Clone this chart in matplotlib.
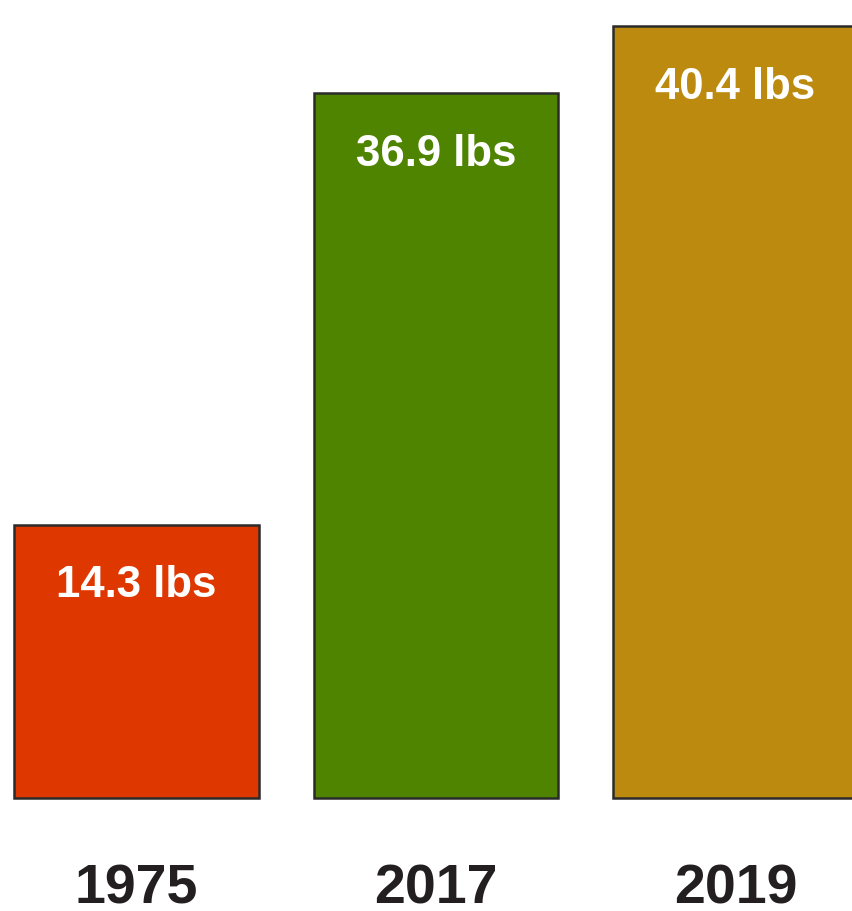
import matplotlib
matplotlib.use("Agg")
import matplotlib.pyplot as plt

years = ["1975", "2017", "2019"]
values = [14.3, 36.9, 40.4]
colors = ["#DE3700", "#4E8400", "#BC8A0E"]
labels = ["14.3 lbs", "36.9 lbs", "40.4 lbs"]

plt.rcParams['font.family'] = ['Liberation Sans', 'DejaVu Sans']

W, H = 853, 911
fig = plt.figure(figsize=(W / 100, H / 100), dpi=100)
ax = fig.add_axes([0, (H - 798) / H, 1, 798 / H])

x = list(range(len(years)))
bars = ax.bar(x, values, width=0.818, color=colors, edgecolor="#2b2b2b", linewidth=1.8)
for b in bars:
    b.set_clip_on(False)

for xi, v, lab in zip(x, values, labels):
    ax.annotate(lab, (xi, v), xytext=(0, -44), textcoords="offset points",
                ha="center", va="center", color="white", fontsize=31.5, fontweight="bold")

ax.set_xlim(-136.5 / 299.5, (W - 136.5) / 299.5)
ax.set_ylim(0, 798 / 19.1)
ax.set_xticks(x)
ax.set_xticklabels(years, fontsize=40, fontweight="bold", color="#231f20")
ax.tick_params(axis="x", length=0, pad=47)
ax.set_yticks([])
for s in ax.spines.values():
    s.set_visible(False)

fig.savefig("out.png", dpi=100)
